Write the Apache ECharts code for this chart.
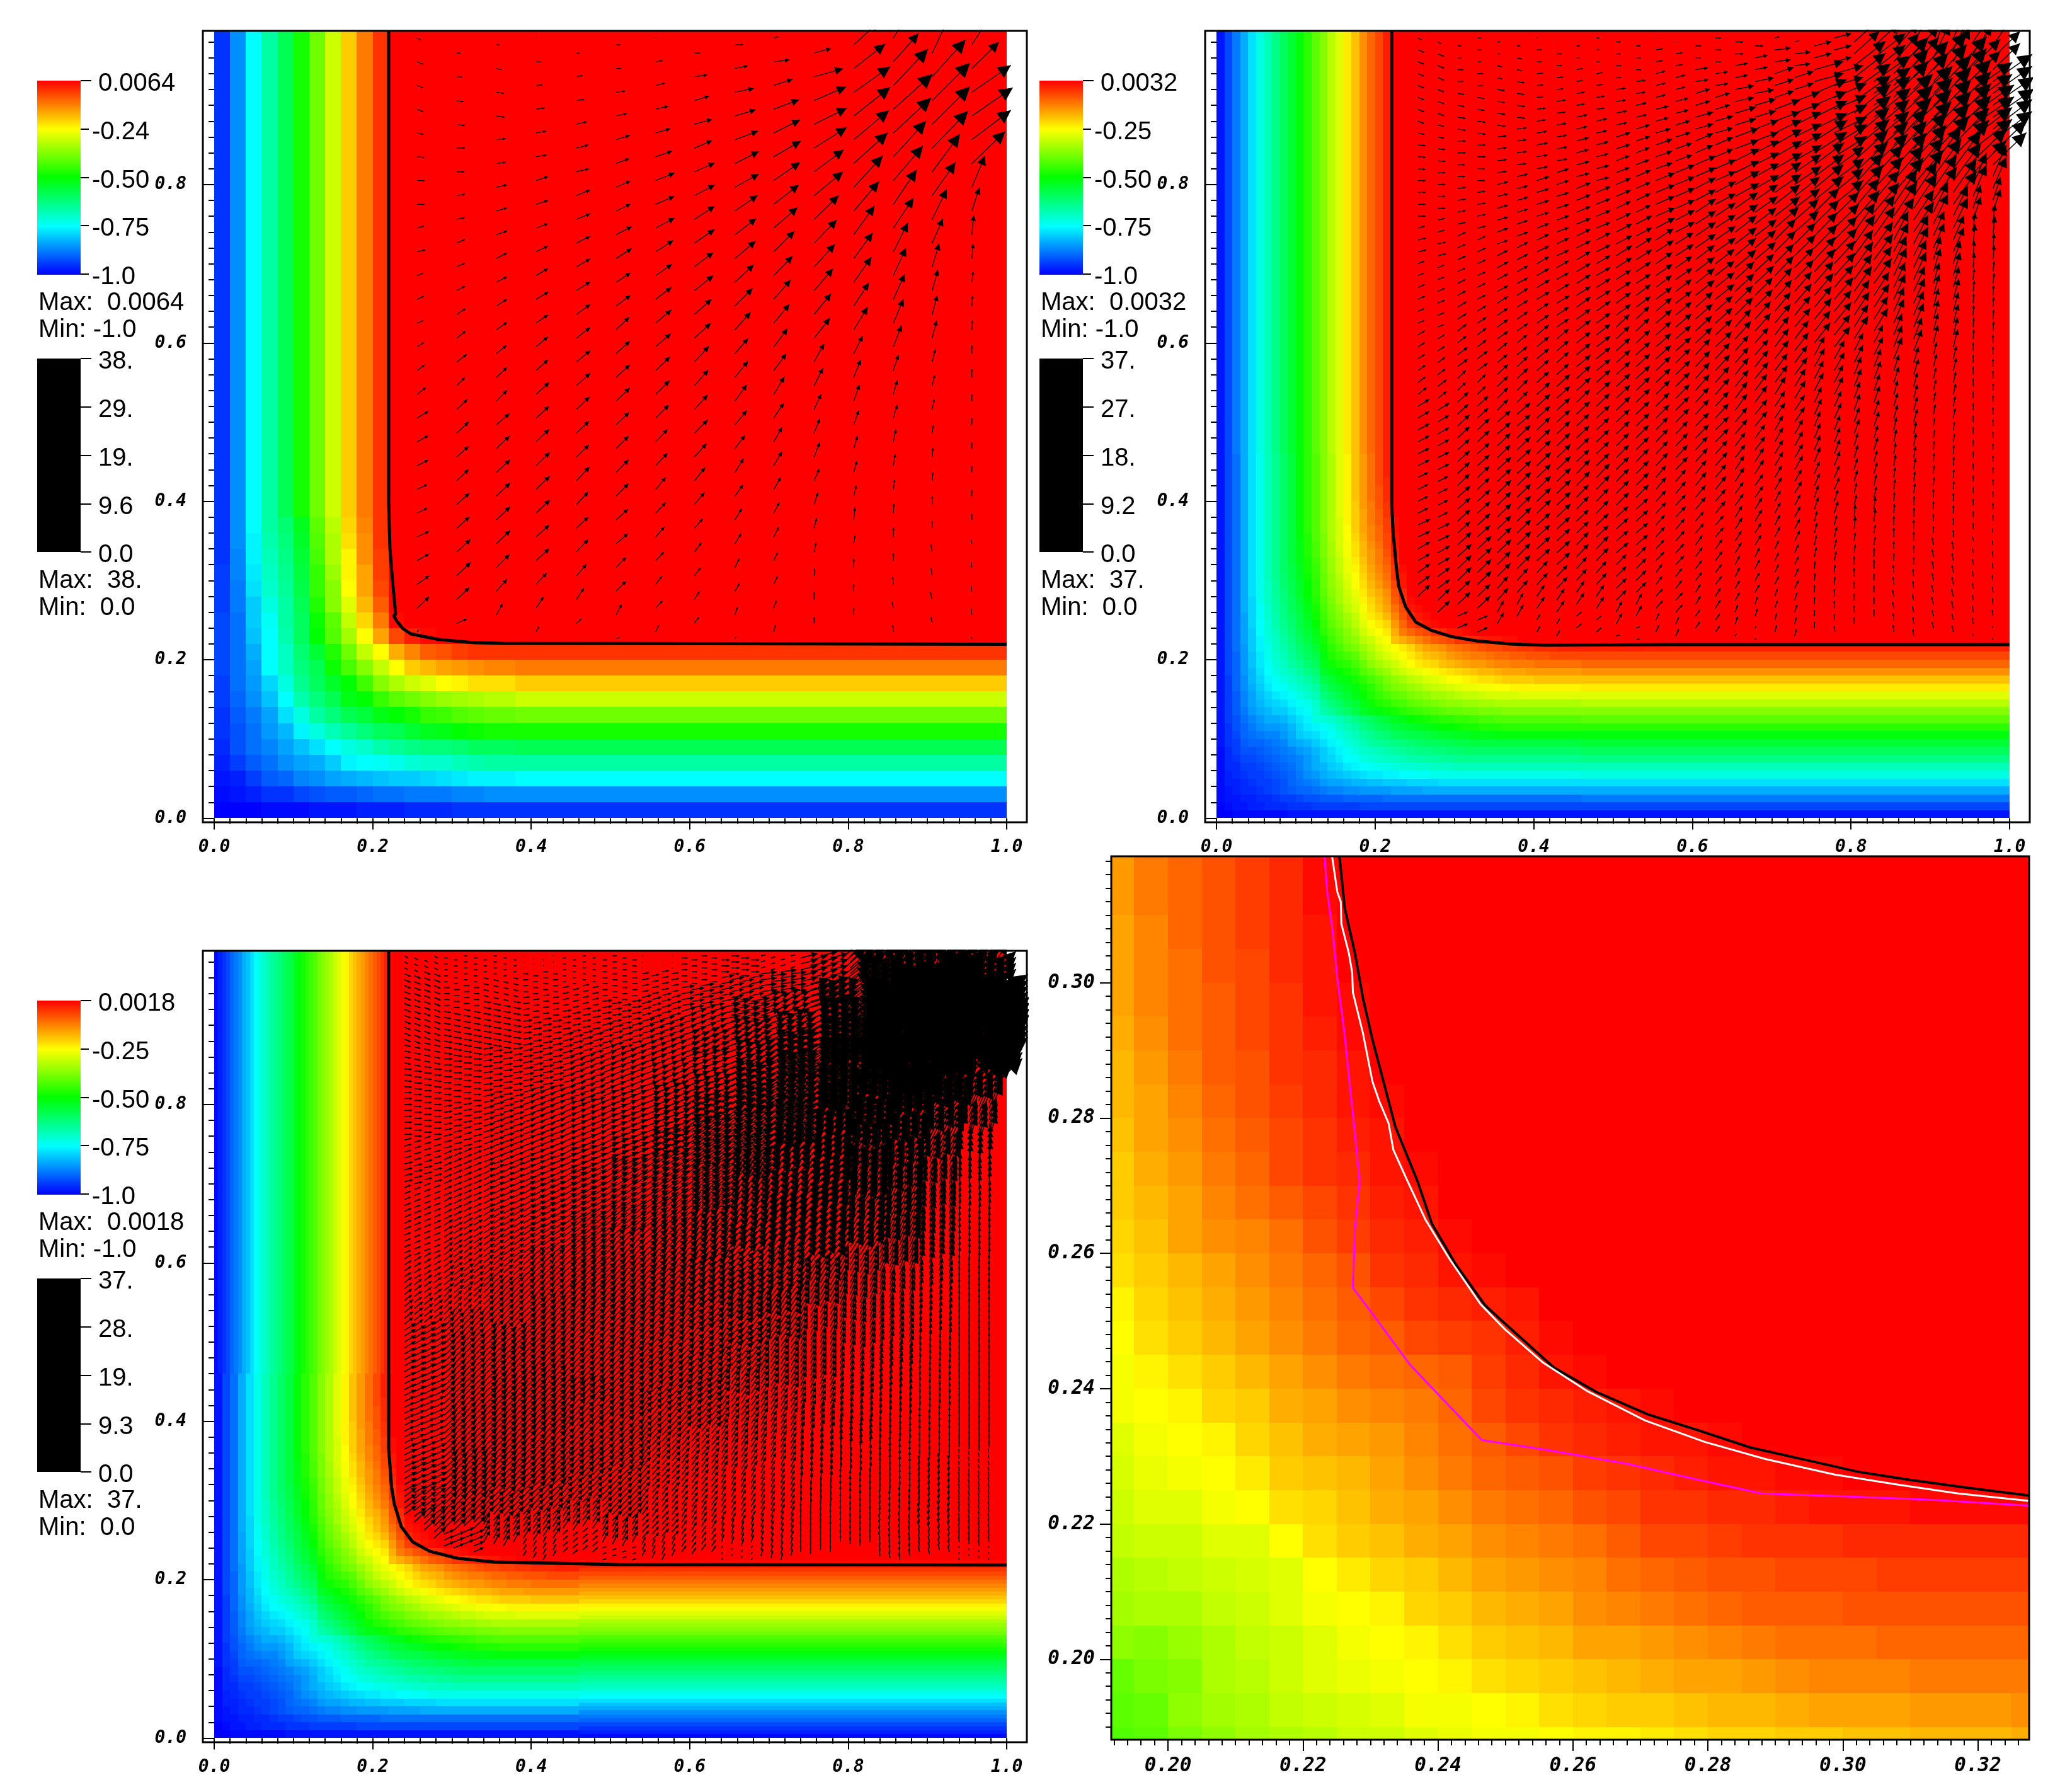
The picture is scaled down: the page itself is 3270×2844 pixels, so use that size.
<!DOCTYPE html>
<html>
<head>
<meta charset="utf-8">
<title>Phase field runs</title>
<script src="https://cdn.jsdelivr.net/npm/echarts@6/dist/echarts.min.js"></script>
<style>
html, body { margin: 0; padding: 0; background: #fff; }
#chart { width: 3270px; height: 2844px; }
</style>
</head>
<body>
<div id="chart"></div>
<script>
// phase values are in hundredths
// panel 1, cell 0.02, rows from the bottom, columns from the left
const field1 = [
	[-100,-100,-100,-99,-99,-99,-98,-98,-98,-97,-97,-97,-96,-96,-96,-95],
	[-99,-98,-97,-95,-95,-93,-92,-91,-91,-90,-89,-89,-88,-88,-88,-87,-87,-86],
	[-98,-97,-94,-91,-90,-87,-86,-84,-83,-82,-81,-80,-80,-79,-78,-77,-76,-76],
	[-97,-94,-91,-89,-86,-84,-83,-80,-76,-75,-74,-73,-71,-70,-70,-68,-67,-66],
	[-96,-92,-89,-87,-84,-81,-78,-75,-72,-70,-67,-65,-63,-62,-62,-61,-59,-59],
	[-95,-92,-89,-85,-82,-76,-72,-68,-65,-62,-59,-58,-55,-53,-52,-50,-49,-48],
	[-95,-91,-88,-84,-78,-72,-66,-62,-58,-56,-52,-50,-48,-45,-44,-42,-41,-40],
	[-94,-90,-86,-81,-75,-67,-62,-58,-52,-50,-45,-41,-39,-37,-35,-34,-33,-32],
	[-94,-89,-85,-79,-72,-64,-59,-54,-50,-44,-37,-33,-30,-28,-25,-24,-22,-22],
	[-93,-89,-84,-75,-69,-62,-58,-49,-43,-37,-31,-25,-20,-18,-16,-15,-14,-13],
	[-93,-89,-83,-75,-69,-61,-55,-47,-39,-31,-25,-17,-13,-9,-8,-6,-5,-5],
	[-93,-89,-81,-75,-67,-59,-50,-42,-34,-25,-16,-7,-3,-1,0],
	[-93,-89,-80,-74,-66,-59,-49,-41,-31,-21,-12,-1,0],
	[-94,-88,-80,-72,-66,-58,-47,-37,-28,-18,-9,0],
	[-94,-88,-78,-70,-65,-57,-45,-37,-25,-16,-7,0],
	[-94,-87,-77,-69,-64,-56,-45,-35,-24,-16,-6,0],
	[-95,-87,-76,-68,-63,-55,-43,-33,-24,-14,-6,0],
	[-95,-86,-76,-67,-62,-54,-42,-33,-22,-14,-5,0],
	[-95,-86,-75,-66,-61,-53,-41,-32,-21,-13,-5,0]
];
const strip1 = [-95,-86,-75,-66,-58,-48,-39,-30,-20,-12,-5,0];

// panels 2 and 3, cell 0.01: row = distance from the edge, column = distance off the diagonal
const field2 = [
	[-100,-100,-99,-99,-99,-99,-99,-99,-99,-98],
	[-99,-98,-98,-97,-97,-96,-96,-96,-95,-95,-95,-94,-94,-94,-94,-94,-94,-93],
	[-98,-97,-97,-96,-96,-95,-94,-94,-93,-92,-92,-91,-91,-91,-90,-90,-90,-90,-90,-89],
	[-96,-96,-95,-94,-93,-92,-91,-90,-90,-89,-88,-87,-87,-86,-86,-85,-85,-85,-85,-84,-84,-84,-84,-83],
	[-95,-94,-94,-93,-92,-90,-89,-88,-87,-85,-84,-84,-83,-82,-82,-81,-81,-80,-80,-80,-79,-79,-79,-79,-78],
	[-94,-93,-92,-91,-90,-88,-86,-85,-83,-82,-81,-80,-79,-78,-77,-77,-76,-76,-75,-75,-74,-74,-73,-73,-73],
	[-92,-91,-90,-89,-87,-85,-83,-82,-80,-79,-77,-76,-75,-74,-73,-73,-72,-71,-71,-70,-70,-69,-69,-69,-68],
	[-90,-89,-88,-87,-85,-83,-80,-79,-77,-75,-74,-72,-71,-70,-69,-69,-68,-67,-67,-66,-66,-65,-65,-64,-64],
	[-88,-87,-85,-84,-82,-80,-78,-76,-74,-72,-70,-69,-68,-67,-66,-65,-64,-63,-63,-62,-62,-61,-61,-60,-60],
	[-84,-83,-82,-80,-78,-76,-74,-72,-70,-68,-66,-65,-64,-63,-62,-61,-60,-59,-59,-58,-58,-57,-57,-56,-56],
	[-80,-79,-78,-76,-74,-72,-70,-68,-66,-64,-62,-61,-59,-58,-57,-57,-56,-55,-54,-54,-53,-53,-52,-52,-52,-51],
	[-77,-76,-74,-73,-70,-68,-66,-63,-61,-59,-58,-56,-55,-54,-53,-52,-51,-50,-50,-49,-48,-48,-47,-47,-47,-46],
	[-72,-71,-70,-68,-66,-63,-61,-59,-57,-55,-53,-52,-50,-49,-48,-47,-46,-46,-45,-45,-44,-43,-43,-42,-42],
	[-67,-65,-62,-60,-57,-54,-52,-51,-49,-48,-46,-45,-44,-43,-42,-41,-40,-40,-39,-39,-38,-38,-38,-37],
	[-62,-60,-57,-55,-52,-49,-47,-46,-44,-43,-41,-40,-39,-38,-37,-36,-36,-35,-35,-34,-34,-33,-33,-33],
	[-57,-55,-52,-50,-47,-45,-43,-41,-40,-38,-37,-36,-34,-34,-33,-32,-31,-31,-30,-29,-29,-29,-29,-28],
	[-53,-51,-48,-46,-43,-40,-38,-37,-35,-34,-32,-31,-30,-29,-28,-27,-27,-26,-26,-25,-25,-24,-24,-24],
	[-48,-46,-43,-41,-38,-36,-34,-32,-31,-29,-28,-27,-25,-25,-24,-23,-22,-22,-21,-20,-20,-20,-20,-19],
	[-42,-40,-37,-35,-32,-30,-28,-27,-26,-24,-23,-22,-21,-20,-19,-18,-18,-17,-16,-16,-16,-15,-15,-15],
	[-36,-34,-32,-30,-27,-25,-23,-22,-21,-19,-18,-17,-16,-15,-15,-14,-13,-13,-12,-12,-12,-11,-11,-11],
	[-31,-29,-27,-25,-23,-21,-19,-18,-17,-15,-14,-13,-12,-12,-11,-10,-10,-9,-9,-8,-8,-8,-7],
	[-27,-25,-23,-21,-18,-16,-15,-14,-12,-11,-10,-9,-8,-7,-7,-6,-6,-5,-5,-4,-4,-4,-3],
	[-19,-17,-15,-13,-11,-9,-8,-7,-5,-5,-4,-3,-2,-2,-1,-1,0],
	[-12,-10,-8,-7,-5,-4,-2,-2,-1,0],
	[-6,-4,-2,-1,0],
	[-2,-1,0]
];
const strip2 = [-98,-93,-88,-83,-78,-72,-68,-63,-59,-55,-51,-46,-41,-37,-32,-28,-23,-19,-14,-10,-7,-3,0];
// panel 3 shows the same corner, its straight bands are read at cell 0.005
const strip3 = [-99,-97,-95,-93,-90,-88,-86,-83,-81,-78,-75,-73,-70,-68,-66,-64,-62,-60,-58,-56,-53,-51,-48,-46,-44,-42,-39,-37,-35,-33,-30,-28,-26,-24,-21,-19,-17,-15,-13,-11,-9,-7,-5,-3,-1,0];

// panel 4, cell 0.005 starting at 0.185, same row / column meaning as field2
const field4 = [
	[-43,-42,-41,-38,-36,-34,-33,-32,-30,-30,-28,-27,-26,-26,-25,-24,-24,-23,-22,-21,-21,-20,-20,-19,-19,-18,-18,-18,-17,-17],
	[-41,-40,-36,-34,-33,-31,-30,-29,-28,-26,-26,-25,-24,-22,-21,-20,-20,-19,-18,-18,-17,-16,-16,-16,-15,-15,-15,-14,-14],
	[-38,-37,-33,-32,-30,-28,-27,-26,-25,-24,-22,-21,-20,-19,-18,-17,-16,-16,-15,-14,-13,-13,-13,-12],
	[-35,-33,-31,-30,-28,-26,-25,-24,-22,-20,-19,-18,-16,-16,-15,-14,-13,-12,-11,-11,-11,-10],
	[-31,-30,-28,-26,-25,-24,-21,-20,-18,-17,-16,-14,-13,-12,-11,-10,-9,-9,-9,-8],
	[-29,-28,-25,-23,-21,-20,-18,-16,-15,-14,-13,-11,-10,-9,-8,-8,-7,-7,-7,-6],
	[-25,-22,-20,-19,-17,-16,-14,-13,-12,-11,-9,-7,-7,-6,-5,-5,-5,-4],
	[-21,-19,-17,-16,-14,-12,-11,-10,-8,-7,-5,-5,-4,-4,-3,-2,-2,-2,-1],
	[-18,-16,-14,-12,-10,-9,-8,-6,-5,-4,-3,-2,-2,-1,-1,0],
	[-15,-13,-11,-9,-7,-5,-4,-3,-2,-2,-1,0],
	[-12,-10,-7,-5,-4,-3,-2,-1,0],
	[-9,-6,-4,-2,-1,0],
	[-5,-3,-1,0],
	[-2,0]
];

// interface curves, [x, y]
const curve1 = [[.2202,.994],[.2202,.3966],[.2218,.34],[.225,.30],[.229,.2574],[.2265,.2558],[.2305,.2486],[.2385,.239],[.248,.2327],[.2838,.2255],[.3283,.2216],[.3633,.2208],[.5215,.2205],[1,.2195]];
const curve2 = [[.221,.994],[.221,.3966],[.2226,.3624],[.2266,.3194],[.2297,.2931],[.2385,.2668],[.2512,.2477],[.2703,.2374],[.2957,.2294],[.3275,.2239],[.3696,.22],[.4141,.2184],[.5715,.2192],[1,.2192]];
const curve3 = [[.2202,.994],[.2202,.3648],[.2238,.317],[.2273,.2955],[.2361,.2669],[.2504,.2478],[.2719,.2359],[.3068,.2271],[.3529,.2224],[.5087,.2192],[1,.2185]];
const zoomBlack = [[.2254,.3188],[.2262,.311],[.2277,.3044],[.2289,.2977],[.2303,.2916],[.2322,.2844],[.2337,.2787],[.237,.2706],[.2391,.2644],[.2427,.2583],[.247,.2523],[.2503,.2493],[.2572,.2431],[.2635,.2395],[.2711,.2362],[.2787,.2338],[.2863,.2313],[.2948,.2294],[.3023,.2277],[.31,.2265],[.3189,.2253],[.3276,.2242]];
const zoomWhite = [[.2243,.3188],[.2251,.3134],[.2256,.312],[.2257,.3087],[.2268,.3044],[.2273,.3015],[.2274,.2986],[.2289,.2925],[.2303,.2854],[.2313,.2825],[.2327,.2792],[.2334,.2753],[.2353,.2711],[.2382,.2649],[.2417,.2592],[.2463,.2525],[.2499,.2488],[.2555,.2439],[.2622,.2396],[.2707,.2353],[.2796,.2321],[.2885,.2296],[.2988,.2273],[.3082,.2258],[.3171,.2245],[.3276,.2234]];
const zoomMagenta = [[.2232,.3188],[.2236,.3134],[.2244,.3077],[.2251,.3006],[.2261,.293],[.227,.2844],[.2277,.2778],[.2284,.2706],[.2277,.2635],[.2274,.2549],[.2299,.2516],[.2359,.2435],[.2399,.2393],[.2465,.2324],[.2564,.2309],[.268,.2289],[.2787,.2265],[.288,.2245],[.2993,.2241],[.3127,.2236],[.3276,.2227]];

const velU = [
	[6,10,10,10,10,12,12,12,11,13,10,11,10,11,12,14,18,18,18,16,16,19,19,19,19,3],
	[6,9,11,13,13,12,13,13,13,13,13,14,14,16,13,17,19,19,19,20,20,22,22,20,16,0],
	[5,8,12,13,15,15,17,17,17,17,17,17,17,16,17,17,21,21,22,22,22,22,21,17,10,0],
	[1,8,10,14,16,17,19,19,19,19,19,20,19,19,19,21,21,21,22,22,22,21,21,17,12,5],
	[5,10,13,17,19,20,22,22,22,22,22,22,22,22,22,21,20,20,21,19,19,19,16,12,8,0],
	[7,8,15,17,22,21,23,23,25,25,23,23,21,22,22,22,21,20,20,20,19,19,16,16,9,6],
	[1,11,15,20,23,26,30,30,30,28,26,25,25,24,23,22,21,19,19,16,16,14,13,10,11,5],
	[9,20,23,28,28,32,32,32,32,30,30,27,26,23,22,21,21,19,17,16,13,11,10,8,7,0],
	[13,20,30,33,37,38,38,36,34,33,30,28,25,21,21,19,19,16,14,13,11,10,7,7,4,2],
	[7,25,30,40,42,43,42,40,38,33,30,27,25,22,20,17,16,13,13,11,9,8,6,6,4,3],
	[27,46,51,52,52,47,46,39,36,33,30,27,25,16,14,11,9,9,8,6,4,3,1,0,0,0],
	[40,50,58,58,56,54,46,40,33,30,28,24,22,14,11,9,8,6,5,4,2,2,0,0,0,0],
	[30,40,55,62,60,52,47,37,32,23,20,18,16,13,8,6,6,4,3,2,1,0,0,-1,-2,-1],
	[26,53,60,60,57,44,37,23,17,11,9,8,7,5,4,3,2,1,1,0,0,-2,-2,-3,-2,0],
	[30,43,62,65,62,53,21,12,3,2,2,1,1,0,0,0,0,0,0,0,0,-1,-1,-1,-1,-1]
];
const velV = [
	[-3,-4,-4,-4,-2,-1,0,0,3,3,4,5,4,7,9,11,11,10,9,8,8,9,11,14,18,4],
	[0,0,-2,-2,0,0,2,3,6,6,7,9,11,12,13,16,18,17,18,18,18,20,21,19,7,0],
	[0,-2,-2,-2,2,2,4,5,6,9,9,11,12,13,16,17,18,20,20,21,21,21,21,19,18,0],
	[0,0,1,2,3,3,6,6,7,9,11,12,13,16,17,19,19,20,21,21,21,19,19,18,18,9],
	[0,2,2,4,5,5,9,9,11,13,14,16,17,18,20,20,19,19,22,20,18,20,18,18,7,0],
	[0,0,2,4,7,8,10,11,13,16,15,17,20,20,20,21,20,20,20,20,17,16,16,16,17,2],
	[0,2,4,5,7,9,12,13,16,18,18,19,21,21,22,22,21,20,20,19,17,16,14,13,12,11],
	[0,3,7,8,12,14,17,21,22,23,24,24,24,25,25,23,21,21,21,19,15,15,13,13,10,0],
	[0,4,6,10,14,19,21,25,26,28,28,28,28,24,26,26,23,21,22,18,18,16,14,12,12,3],
	[2,3,10,15,21,25,29,31,33,33,31,31,30,29,27,28,24,23,22,19,17,16,13,13,12,11],
	[7,13,22,26,33,35,38,38,37,36,35,33,32,29,28,24,23,23,19,19,16,15,12,12,10,0],
	[36,39,41,46,47,49,50,47,46,41,40,37,36,28,28,26,23,20,18,17,20,13,14,11,11,0],
	[50,45,58,56,56,57,55,55,48,46,44,40,38,34,25,22,21,20,18,16,15,15,12,12,10,11],
	[55,59,60,60,59,60,53,48,39,37,33,30,28,20,17,16,13,14,13,13,11,12,12,12,10,0],
	[46,42,43,45,47,51,50,37,31,23,17,16,15,13,13,11,11,10,10,10,10,7,9,9,10,3]
];
const velColumnX = [.256,.306,.356,.406,.457,.507,.557,.606,.657,.706,.757,.807,.857,.906,.956];
const velTopY = [.985,.966,.9765];
const velRowStep = .03;
const velUnit = 1 / 1258;

// colour bar texts
const phaseTicks = [
	['0.0064','-0.24','-0.50','-0.75','-1.0'],
	['0.0032','-0.25','-0.50','-0.75','-1.0'],
	['0.0018','-0.25','-0.50','-0.75','-1.0']
];
const phaseMax = ['0.0064','0.0032','0.0018'];
const phaseMin = ['-1.0','-1.0','-1.0'];
const speedTicks = [
	['38.','29.','19.','9.6','0.0'],
	['37.','27.','18.','9.2','0.0'],
	['37.','28.','19.','9.3','0.0']
];
const speedMax = ['38.','37.','37.'];
const speedMin = ['0.0','0.0','0.0'];

// axis ticks
const wideTicksX = [0,.2,.4,.6,.8,1];
const wideTicksY = [0,.2,.4,.6,.8];
const zoomTicksX = [.2,.22,.24,.26,.28,.3,.32];
const zoomTicksY = [.2,.22,.24,.26,.28,.3];

const rainbow = ['#0000ff','#00ffff','#00ff00','#ffff00','#ff0000'];

function tableCell(rows, i, j) {
	const row = rows[Math.min(j, rows.length - 1)];
	return row[Math.min(i, row.length - 1)];
}
function diagonalCell(rows, i, j) {
	const row = rows[Math.min(i, j)];
	if (!row) return 0;
	return row[Math.min(Math.abs(i - j), row.length - 1)];
}

// list of [x0, y0, x1, y1, value]
function buildCells(rows, lookup, step, count, start, strip, stripStep) {
	const cells = [];
	if (strip) {
		cells.push([0, 0, 1, 1, 0]);
		const edge = count * step;
		strip.forEach(function(v, k) {
			cells.push([k * stripStep, edge, (k + 1) * stripStep, 1, v / 100]);
			cells.push([edge, k * stripStep, 1, (k + 1) * stripStep, v / 100]);
		});
	}
	for (let j = 0; j < count; j++) {
		for (let i = 0; i < count; i++) {
			cells.push([start + i * step, start + j * step, start + (i + 1) * step, start + (j + 1) * step, lookup(rows, i, j) / 100]);
		}
	}
	return cells;
}

// arrows at a finer stride take the value of the nearest column and row of the table
function buildArrows(startX, stepX, columns, topY, stepY, rows, shift) {
	const arrows = [];
	for (let c = 0; c < columns; c++) {
		const x = startX + c * stepX;
		let col = 0;
		velColumnX.forEach(function(v, n) {
			if (Math.abs(v - x) < Math.abs(velColumnX[col] - x)) col = n;
		});
		for (let r = 0; r < rows; r++) {
			const y = topY - r * stepY - shift[c % 3];
			if (diagonalCell(field2, Math.floor(x * 100), Math.floor(y * 100)) < 0) continue;
			const row = Math.max(0, Math.min(25, Math.round((velTopY[col % 3] - y) / velRowStep)));
			arrows.push([x, y, velU[col][row], velV[col][row]]);
		}
	}
	return arrows;
}
function panelOneArrows() {
	const arrows = [];
	velColumnX.forEach(function(x, c) {
		velU[c].forEach(function(u, r) {
			const v = velV[c][r];
			if (u === 0 && v === 0) return;
			arrows.push([x, velTopY[c % 3] - r * velRowStep, u, v]);
		});
	});
	return arrows;
}

function renderCell(params, api) {
	const a = api.coord([api.value(0), api.value(1)]);
	const b = api.coord([api.value(2), api.value(3)]);
	const x = Math.round(a[0]);
	const y = Math.round(b[1]);
	return {
		type: 'rect',
		shape: { x: x, y: y, width: Math.round(b[0]) - x, height: Math.round(a[1]) - y },
		style: { fill: api.visual('color') }
	};
}
function arrowRenderer(lineWidth, head) {
	return function(params, api) {
		const x = api.value(0), y = api.value(1);
		const p = api.coord([x, y]);
		const q = api.coord([x + api.value(2) * velUnit, y + api.value(3) * velUnit]);
		const dx = q[0] - p[0], dy = q[1] - p[1];
		const bx = q[0] - dx * head, by = q[1] - dy * head;
		const wx = -dy * head / 2, wy = dx * head / 2;
		return {
			type: 'group',
			children: [{
				type: 'line',
				shape: { x1: p[0], y1: p[1], x2: q[0], y2: q[1] },
				style: { stroke: '#000', lineWidth: lineWidth }
			}, {
				type: 'polygon',
				shape: { points: [[q[0], q[1]], [bx + wx, by + wy], [bx - wx, by - wy]] },
				style: { fill: '#000' }
			}]
		};
	};
}

function fieldSeries(p, cells) {
	return {
		type: 'custom', xAxisIndex: p * 2, yAxisIndex: p * 2,
		renderItem: renderCell, data: cells, clip: true, z: 2, silent: true,
		dimensions: ['x0', 'y0', 'x1', 'y1', 'phase'],
		encode: { x: [0, 2], y: [1, 3] }
	};
}
function arrowSeries(p, arrows, lineWidth, head) {
	return {
		type: 'custom', xAxisIndex: p * 2, yAxisIndex: p * 2,
		renderItem: arrowRenderer(lineWidth, head), data: arrows, clip: false, z: 4, silent: true,
		encode: { x: 0, y: 1 }
	};
}
function curveSeries(p, points, color, width) {
	return {
		type: 'line', xAxisIndex: p * 2, yAxisIndex: p * 2, data: points,
		showSymbol: false, clip: true, z: 5, silent: true,
		lineStyle: { color: color, width: width }
	};
}

const labelStyle = {
	fontFamily: 'DejaVu Sans Mono', fontStyle: 'italic', fontWeight: 'bold',
	color: '#000', margin: 26
};
function axisPair(side, gridIndex, range, major, minor, digits, labelSize) {
	const common = { type: 'value', gridIndex: gridIndex, position: side, min: range[0], max: range[1], splitLine: { show: false }, axisLine: { show: false } };
	return [
		Object.assign({}, common, {
			axisTick: { length: 18, lineStyle: { color: '#000', width: 2 }, customValues: major },
			axisLabel: Object.assign({}, labelStyle, {
				fontSize: labelSize, customValues: major,
				formatter: function(v) { return v.toFixed(digits); }
			})
		}),
		Object.assign({}, common, {
			axisTick: { length: 9, lineStyle: { color: '#000', width: 2 }, customValues: minor },
			axisLabel: { show: false }
		})
	];
}
function minorTicks(count, first, step) {
	return Array.from({ length: count }, function(_, i) { return +(first + i * step).toFixed(3); });
}

const grids = [
	{ left: 322, top: 49, width: 1308, height: 1256 },
	{ left: 1913, top: 49, width: 1309, height: 1256 },
	{ left: 322, top: 1509, width: 1308, height: 1256 },
	{ left: 1764, top: 1359, width: 1457, height: 1402 }
];
const wideX = [-.0143, 1.0254], wideY = [-.0052, .994];
const zoomX = [.1916, .3276], zoomY = [.1881, .3187];

let xAxes = [], yAxes = [];
for (let p = 0; p < 3; p++) {
	xAxes = xAxes.concat(axisPair('bottom', p, wideX, wideTicksX, minorTicks(51, 0, .02), 1, 28));
	yAxes = yAxes.concat(axisPair('left', p, wideY, wideTicksY, minorTicks(50, 0, .02), 1, 28));
}
xAxes = xAxes.concat(axisPair('bottom', 3, zoomX, zoomTicksX, minorTicks(68, .192, .002), 2, 31));
yAxes = yAxes.concat(axisPair('left', 3, zoomY, zoomTicksY, minorTicks(65, .19, .002), 2, 31));

const series = [
	fieldSeries(0, buildCells(field1, tableCell, .02, 19, 0, strip1, .02)),
	fieldSeries(1, buildCells(field2, diagonalCell, .01, 46, 0, strip2, .01)),
	fieldSeries(2, buildCells(field2, diagonalCell, .01, 46, 0, strip3, .005)),
	fieldSeries(3, buildCells(field4, diagonalCell, .005, 30, .185)),
	arrowSeries(0, panelOneArrows(), 1.3, .27),
	arrowSeries(1, buildArrows(.254, .025, 30, .985, .015, 51, [0, .005, .01]), 1.5, .3),
	arrowSeries(2, buildArrows(.24, .0125, 60, .9875, .0075, 102, [0, .0025, .005]), 1.7, .34),
	curveSeries(0, curve1, '#000', 5),
	curveSeries(1, curve2, '#000', 5),
	curveSeries(2, curve3, '#000', 5),
	curveSeries(3, zoomBlack, '#000', 4),
	curveSeries(3, zoomWhite, '#fff', 3),
	curveSeries(3, zoomMagenta, '#ff00ff', 3)
];

// colour bars, frames and the white strips that trim the arrows at the view edge
const TEXT_FONT = '40px "Liberation Sans"';
function barText(x, y, text) {
	return { type: 'text', x: x, y: y + 4, z: 60, style: { text: text, font: TEXT_FONT, fill: '#000', verticalAlign: 'middle' } };
}
function barTicks(elements, left, tops, labels) {
	tops.forEach(function(y, i) {
		const minus = labels[i].charAt(0) === '-';
		elements.push({ type: 'line', z: 60, shape: { x1: left + 69, y1: y, x2: left + 69 + (minus ? 13 : 17), y2: y }, style: { stroke: '#000', lineWidth: 2 } });
		elements.push(barText(left + (minus ? 87 : 97), y + 1, labels[i]));
	});
}
function addBars(elements, n, dx, dy) {
	const left = 59 + dx;
	elements.push({
		type: 'rect', z: 60, shape: { x: left, y: 128 + dy, width: 69, height: 308 },
		style: { fill: { type: 'linear', x: 0, y: 0, x2: 0, y2: 1, colorStops: rainbow.slice().reverse().map(function(c, i) { return { offset: i / 4, color: c }; }) } }
	});
	barTicks(elements, left, [128, 205, 282, 358, 435].map(function(y) { return y + dy; }), phaseTicks[n]);
	elements.push(barText(left + 2, 477 + dy, 'Max:  ' + phaseMax[n]));
	elements.push(barText(left + 2, 520 + dy, 'Min: ' + phaseMin[n]));
	elements.push({ type: 'rect', z: 60, shape: { x: left, y: 569 + dy, width: 69, height: 307 }, style: { fill: '#000' } });
	barTicks(elements, left, [569, 646, 723, 800, 876].map(function(y) { return y + dy; }), speedTicks[n]);
	elements.push(barText(left + 2, 918 + dy, 'Max:  ' + speedMax[n]));
	elements.push(barText(left + 2, 961 + dy, 'Min:  ' + speedMin[n]));
}
const elements = [];
[[0, 47, 1660], [1913, 47, 1357]].forEach(function(c) {
	elements.push({ type: 'rect', z: 50, shape: { x: c[0], y: 0, width: c[2], height: c[1] }, style: { fill: '#fff' } });
});
elements.push({ type: 'rect', z: 50, shape: { x: 322, y: 1440, width: 1328, height: 67 }, style: { fill: '#fff' } });
elements.push({ type: 'rect', z: 50, shape: { x: 1633, y: 1440, width: 18, height: 400 }, style: { fill: '#fff' } });
elements.push({ type: 'rect', z: 50, shape: { x: 3227, y: 0, width: 43, height: 400 }, style: { fill: '#fff' } });
grids.forEach(function(g) {
	elements.push({ type: 'rect', z: 55, shape: { x: g.left, y: g.top, width: g.width, height: g.height }, style: { fill: 'none', stroke: '#000', lineWidth: 3 } });
});
addBars(elements, 0, 0, 0);
addBars(elements, 1, 1591, 0);
addBars(elements, 2, 0, 1460);

const myChart = echarts.init(document.getElementById('chart'), null, { renderer: 'canvas', width: 3270, height: 2844 });
myChart.setOption({
	animation: false,
	backgroundColor: '#fff',
	grid: grids,
	xAxis: xAxes,
	yAxis: yAxes,
	visualMap: {
		show: false, type: 'continuous', min: -1, max: 0, dimension: 4,
		seriesIndex: [0, 1, 2, 3],
		inRange: { color: rainbow }
	},
	graphic: { elements: elements },
	series: series
});
</script>
</body>
</html>
